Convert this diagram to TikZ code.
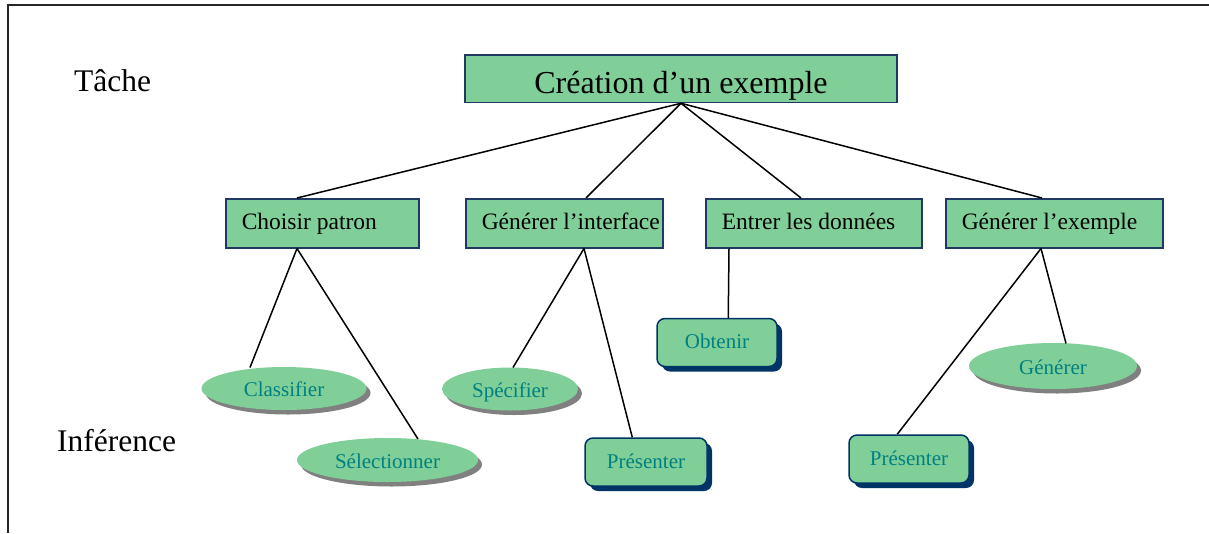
\documentclass[tikz,border=0pt]{standalone}
\usepackage{fontspec}
\setmainfont{Liberation Serif}
\usetikzlibrary{shapes.geometric,shadows}
\definecolor{boxgreen}{RGB}{128,207,152}
\definecolor{navy}{RGB}{0,51,102}
\definecolor{edgeblue}{RGB}{31,56,100}
\definecolor{infteal}{RGB}{0,128,128}
\begin{document}
\begin{tikzpicture}[x=1pt,y=-1pt,
  frame/.style={line width=2.2pt, black!85},
  levellabel/.style={anchor=base west, inner sep=0pt, font=\fontsize{31.5}{37}\selectfont},
  topbox/.style={rectangle, draw=edgeblue, line width=1.5pt, fill=boxgreen,
    minimum width=432pt, minimum height=47.5pt, inner sep=0pt,
    text height=30pt, text depth=0pt, font=\fontsize{32}{38}\selectfont},
  taskbox/.style={rectangle, draw=edgeblue, line width=1.5pt, fill=boxgreen,
    anchor=north west, inner xsep=0pt, inner ysep=0pt, minimum height=49pt,
    text height=16pt, text depth=4pt,
    font=\fontsize{23.5}{28}\selectfont},
  infell/.style={ellipse, fill=boxgreen, inner sep=0pt, text=infteal,
    text height=16pt, text depth=0pt, font=\fontsize{21}{25}\selectfont,
    drop shadow={shadow xshift=4pt, shadow yshift=-4.5pt, fill=black!50, opacity=1}},
  infbox/.style={rectangle, rounded corners=8pt, draw=navy, line width=1.5pt,
    fill=boxgreen, text=infteal, inner sep=0pt, minimum height=48pt,
    text height=16pt, text depth=4pt, font=\fontsize{21}{25}\selectfont,
    drop shadow={shadow xshift=5pt, shadow yshift=-5pt, fill=navy, opacity=1}},
  conn/.style={line width=1.5pt, black}]

\useasboundingbox (0,0) rectangle (1209,533);

% page frame (top and left rules)
\draw[frame] (8,533) -- (8,5) -- (1209,5);

% level labels
\node[levellabel] (tache) at (74,91) {Tâche};
\node[levellabel] (inference) at (57,451) {Inférence};

% task level
\node[topbox] (creation) at (681,78.75) {Création d’un exemple};

% sub-tasks: text set flush left with a 16pt indent inside a fixed-width box
\node[taskbox] (choisir)   at (225,198) {\makebox[193pt][l]{\hspace*{16pt}Choisir patron}};
\node[taskbox] (interface) at (465,198) {\makebox[197pt][l]{\hspace*{16pt}Générer l’interface}};
\node[taskbox] (entrer)    at (705,198) {\makebox[216pt][l]{\hspace*{16pt}Entrer les données}};
\node[taskbox] (exemple)   at (945,198) {\makebox[217pt][l]{\hspace*{16pt}Générer l’exemple}};

% inference level
\node[infell, minimum width=165pt, minimum height=43pt] (classifier) at (284,388.5) {Classifier};
\node[infell, minimum width=181pt, minimum height=44pt] (selection)  at (387.5,460) {Sélectionner};
\node[infell, minimum width=136pt, minimum height=43pt] (specifier)  at (510,389) {Spécifier};
\node[infell, minimum width=168pt, minimum height=46pt] (generer)    at (1053,366) {Générer};

\node[infbox, minimum width=120pt] (obtenir)    at (717,342.5) {Obtenir};
\node[infbox, minimum width=122pt] (presenterA) at (646,462) {Présenter};
\node[infbox, minimum width=120pt] (presenterB) at (909,459) {Présenter};

% task decomposition
\draw[conn] (creation.south) -- ([xshift=72pt]choisir.north west);
\draw[conn] (creation.south) -- ([xshift=121pt]interface.north west);
\draw[conn] (creation.south) -- ([xshift=96pt]entrer.north west);
\draw[conn] (creation.south) -- ([xshift=97pt]exemple.north west);

% inferences of each sub-task
\draw[conn] ([xshift=72pt]choisir.south west) -- ([shift={(-34,-21)}]classifier.center);
\draw[conn] ([xshift=72pt]choisir.south west) -- ([shift={(30.5,-21)}]selection.center);
\draw[conn] ([xshift=119pt]interface.south west) -- ([shift={(3,-21.5)}]specifier.center);
\draw[conn] ([xshift=119pt]interface.south west) -- ([xshift=48pt]presenterA.north west);
\draw[conn] ([xshift=24pt]entrer.south west) -- ([xshift=72pt]obtenir.north west);
\draw[conn] ([xshift=96pt]exemple.south west) -- ([shift={(13,-22.5)}]generer.center);
\draw[conn] ([xshift=96pt]exemple.south west) -- ([xshift=49pt]presenterB.north west);
\end{tikzpicture}
\end{document}
